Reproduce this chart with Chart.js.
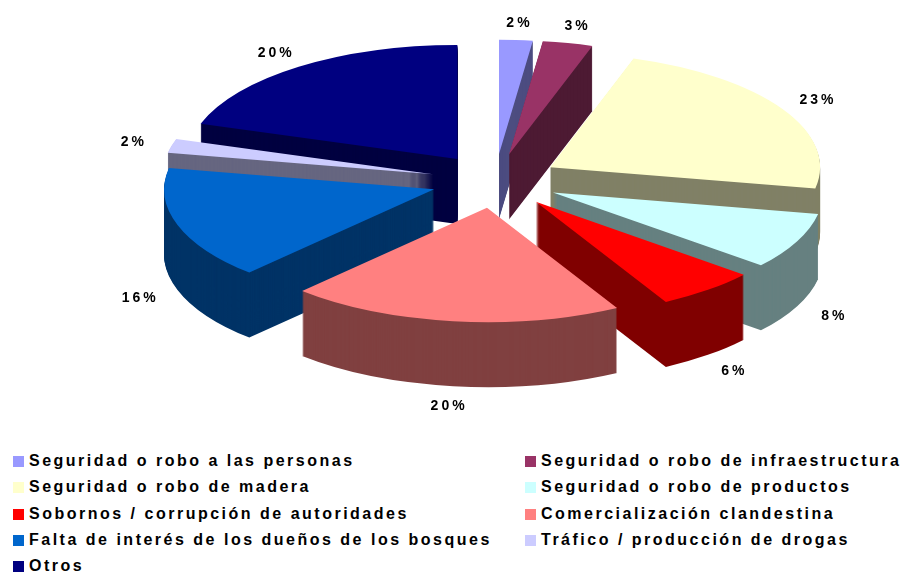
<!DOCTYPE html>
<html lang="es">
<head>
<meta charset="utf-8">
<title>Problemas</title>
<script src="https://cdn.jsdelivr.net/npm/chart.js@4.4.1/dist/chart.umd.min.js"></script>
<style>
    body { margin: 0; background: #fff; }
    #contenedor { position: relative; width: 902px; height: 573px; overflow: hidden; }
    #grafico { position: absolute; left: 0; top: 0; }
    .leyenda-item {
        position: absolute;
        height: 18px;
        line-height: 18px;
        font-family: 'Liberation Sans', Arial, sans-serif;
        font-weight: bold;
        font-size: 16px;
        letter-spacing: 2.5px;
        color: #000;
        white-space: nowrap;
    }
    .leyenda-item span {
        display: inline-block;
        width: 11px;
        height: 11px;
        margin-right: 5px;
        vertical-align: -1px;
    }
</style>
</head>
<body>
<div id="contenedor">
    <canvas id="grafico" width="902" height="440"></canvas>
</div>
<script>
// Datos del gráfico
const categorias = [
    'Seguridad o robo a las personas',
    'Seguridad o robo de infraestructura',
    'Seguridad o robo de madera',
    'Seguridad o robo de productos',
    'Sobornos / corrupción de autoridades',
    'Comercialización clandestina',
    'Falta de interés de los dueños de los bosques',
    'Tráfico / producción de drogas',
    'Otros'
];
const porcentajes = [2, 3, 23, 8, 6, 20, 16, 2, 20];
const colores = ['#9999FF', '#993366', '#FFFFCC', '#CCFFFF', '#FF0000', '#FF8080', '#0066CC', '#CCCCFF', '#000080'];

// Parámetros del efecto 3D
const centroX = 495;
const centroY = 181;
const inclinacion = 0.423;   // aplastamiento vertical
const separacion = 64;       // distancia de cada porción al centro
const profundidad = 65;      // alto del lateral
const radioEtiqueta = 374;

// Oscurece un color a la mitad (para los laterales)
function oscurecer(hex) {
    const n = parseInt(hex.slice(1), 16);
    const r = Math.round(((n >> 16) & 255) / 2);
    const g = Math.round(((n >> 8) & 255) / 2);
    const b = Math.round((n & 255) / 2);
    return `rgb(${r}, ${g}, ${b})`;
}

// Plugin que dibuja la torta en 3D usando los arcos de Chart.js
const torta3d = {
    id: 'torta3d',
    beforeDatasetsDraw(chart) {
        const ctx = chart.ctx;
        const arcos = chart.getDatasetMeta(0).data;
        const cx = arcos[0].x;
        const cy = arcos[0].y;

        const dibujarArco = (arco, color, dy) => {
            const medio = (arco.startAngle + arco.endAngle) / 2;
            const copia = Object.create(arco);
            copia.options = Object.assign({}, arco.options, {
                backgroundColor: color, borderColor: color, borderWidth: 0, offset: 0
            });
            ctx.save();
            ctx.translate(centroX, centroY);
            ctx.scale(1, inclinacion);
            ctx.translate(-cx, -cy);
            ctx.translate(Math.cos(medio) * separacion, Math.sin(medio) * separacion + dy / inclinacion);
            copia.draw(ctx);
            ctx.restore();
        };

        // Orden de atrás hacia adelante
        const orden = arcos.map((a, i) => i).sort((a, b) => {
            const ma = (arcos[a].startAngle + arcos[a].endAngle) / 2;
            const mb = (arcos[b].startAngle + arcos[b].endAngle) / 2;
            return Math.sin(ma) - Math.sin(mb);
        });

        // Laterales
        orden.forEach(i => {
            const oscuro = oscurecer(colores[i]);
            for (let d = profundidad; d > 0; d--) {
                dibujarArco(arcos[i], oscuro, d);
            }
        });
        // Caras superiores
        orden.forEach(i => dibujarArco(arcos[i], colores[i], 0));

        // Etiquetas de porcentaje
        ctx.save();
        ctx.font = 'bold 14px "Liberation Sans", Arial, sans-serif';
        ctx.letterSpacing = '3px';
        ctx.fillStyle = '#000';
        ctx.textAlign = 'center';
        ctx.textBaseline = 'middle';
        arcos.forEach((arco, i) => {
            const medio = (arco.startAngle + arco.endAngle) / 2;
            const x = centroX + Math.cos(medio) * radioEtiqueta;
            let y = centroY + Math.sin(medio) * radioEtiqueta * inclinacion;
            if (Math.sin(medio) > 0) y += profundidad + 3;
            ctx.fillText(porcentajes[i] + '%', x + 1, y);
        });
        ctx.restore();
        return false;
    }
};

const ctx = document.getElementById('grafico').getContext('2d');
new Chart(ctx, {
    type: 'pie',
    data: {
        labels: categorias,
        datasets: [{
            data: porcentajes,
            backgroundColor: colores,
            borderWidth: 0
        }]
    },
    options: {
        responsive: false,
        animation: false,
        radius: 270,
        layout: { padding: { left: 88 } },
        plugins: {
            legend: { display: false },
            tooltip: { enabled: false }
        }
    },
    plugins: [torta3d]
});

// Leyenda en dos columnas
const contenedor = document.getElementById('contenedor');
categorias.forEach((nombre, i) => {
    const item = document.createElement('div');
    item.className = 'leyenda-item';
    item.style.left = (i % 2 === 0 ? 13 : 525) + 'px';
    item.style.top = (452 + Math.floor(i / 2) * 26.25) + 'px';
    const cuadro = document.createElement('span');
    cuadro.style.background = colores[i];
    item.appendChild(cuadro);
    item.appendChild(document.createTextNode(nombre));
    contenedor.appendChild(item);
});
</script>
</body>
</html>
